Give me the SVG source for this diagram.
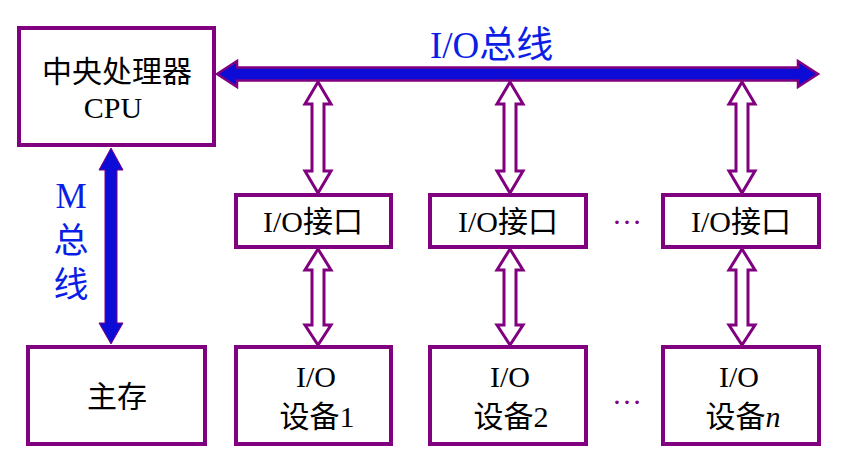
<svg xmlns="http://www.w3.org/2000/svg" width="841" height="463" viewBox="0 0 841 463">
<style>
.box{fill:#fff;stroke:#800080;stroke-width:4}
.t{font-family:"Liberation Serif","Noto Sans CJK SC",serif;font-size:30px;fill:#000;text-anchor:middle}
.bl{font-family:"Liberation Serif","Noto Sans CJK SC",serif;fill:#0a1ee6}
.hol{fill:#fff;stroke:#800080;stroke-width:3;stroke-linejoin:miter}
.bus{fill:#0c0cd6;stroke:#800080;stroke-width:2.5}
.dots{font-family:"Liberation Serif",serif;font-size:30px;fill:#800080;text-anchor:middle}
</style>
<rect width="841" height="463" fill="#fff"/>
<g id="connectors">
<polygon class="bus" points="217,74 237,61 237,67.5 798,67.5 798,61 818,74 798,87 798,80.5 237,80.5 237,87"/>
<polygon fill="#0c0cd6" stroke="#800080" stroke-width="1" points="111,148 123,170 117,170 117,323 123,323 111,344 99,323 105,323 105,170 99,170"/>
<polygon class="hol" points="318,82 331,104 324,104 324,171 331,171 318,193 305,171 312,171 312,104 305,104"/>
<polygon class="hol" points="510,82 523,104 516,104 516,171 523,171 510,193 497,171 504,171 504,104 497,104"/>
<polygon class="hol" points="742,82 755,104 748,104 748,171 755,171 742,193 729,171 736,171 736,104 729,104"/>
<polygon class="hol" points="318,249 331,270 324,270 324,325 331,325 318,345 305,325 312,325 312,270 305,270"/>
<polygon class="hol" points="510,249 523,270 516,270 516,325 523,325 510,345 497,325 504,325 504,270 497,270"/>
<polygon class="hol" points="742,249 755,270 748,270 748,325 755,325 742,345 729,325 736,325 736,270 729,270"/>
</g>
<g id="label-iobus"><text class="bl" x="430" y="58" font-size="37">I/O总线</text></g>
<g id="label-mbus">
<text class="bl" x="71" y="208" font-size="35" text-anchor="middle">M</text>
<text class="bl" x="71" y="253" font-size="35" text-anchor="middle">总</text>
<text class="bl" x="71" y="297" font-size="35" text-anchor="middle">线</text>
</g>
<g id="cpu">
<rect class="box" x="19" y="28" width="195" height="117"/>
<text class="t" x="117" y="82">中央处理器</text>
<text class="t" x="113" y="118" font-size="31">CPU</text>
</g>
<g id="memory">
<rect class="box" x="28" y="347" width="177" height="97"/>
<text class="t" x="117" y="407">主存</text>
</g>
<g id="if1">
<rect class="box" x="236" y="195" width="155" height="52"/>
<text class="t" x="313" y="232">I/O接口</text>
</g>
<g id="if2">
<rect class="box" x="430" y="195" width="156" height="52"/>
<text class="t" x="508" y="232">I/O接口</text>
</g>
<g id="if3">
<rect class="box" x="663" y="195" width="156" height="52"/>
<text class="t" x="741" y="232">I/O接口</text>
</g>
<g id="dev1">
<rect class="box" x="236" y="347" width="155" height="97"/>
<text class="t" x="316" y="387" font-size="31">I/O</text>
<text class="t" x="317" y="427">设备1</text>
</g>
<g id="dev2">
<rect class="box" x="430" y="347" width="156" height="97"/>
<text class="t" x="510" y="387" font-size="31">I/O</text>
<text class="t" x="511" y="427">设备2</text>
</g>
<g id="devn">
<rect class="box" x="663" y="347" width="156" height="97"/>
<text class="t" x="739" y="387" font-size="31">I/O</text>
<text class="t" x="743" y="427">设备<tspan font-style="italic">n</tspan></text>
</g>
<g id="ellipsis">
<text class="dots" x="627" y="224">…</text>
<text class="dots" x="627" y="404">…</text>
</g>
</svg>
